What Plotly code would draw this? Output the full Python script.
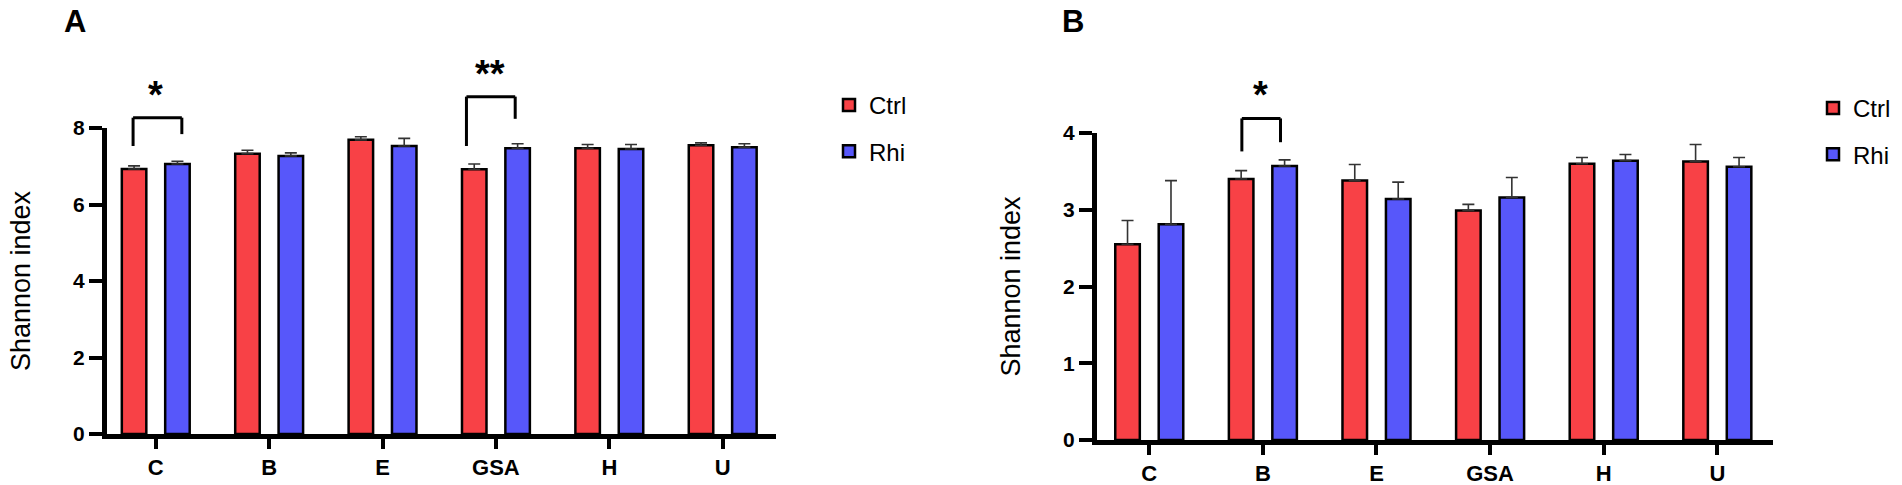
import plotly.graph_objects as go

# ---------------- data ----------------
categories = ["C", "B", "E", "GSA", "H", "U"]

a_ctrl = [6.93, 7.33, 7.69, 6.92, 7.47, 7.55]
a_ctrl_err = [0.08, 0.09, 0.08, 0.14, 0.10, 0.06]
a_rhi = [7.06, 7.27, 7.53, 7.47, 7.45, 7.50]
a_rhi_err = [0.07, 0.08, 0.20, 0.12, 0.12, 0.09]

b_ctrl = [2.55, 3.40, 3.38, 2.99, 3.60, 3.63]
b_ctrl_err = [0.31, 0.11, 0.21, 0.08, 0.08, 0.22]
b_rhi = [2.81, 3.57, 3.14, 3.16, 3.64, 3.56]
b_rhi_err = [0.57, 0.08, 0.22, 0.26, 0.08, 0.12]

a_ticks = [0, 2, 4, 6, 8]
b_ticks = [0, 1, 2, 3, 4]

# significance brackets: category, label, top, left-leg end, right-leg end, star height
a_sig_cats = ["C", "GSA"]
a_sig_labels = ["*", "**"]
a_sig_top = [8.27, 8.82]
a_sig_left_end = [7.53, 7.53]
a_sig_right_end = [7.84, 8.24]
a_sig_star = [8.86, 9.42]

b_sig_cats = ["B"]
b_sig_labels = ["*"]
b_sig_top = [4.19]
b_sig_left_end = [3.76]
b_sig_right_end = [3.88]
b_sig_star = [4.49]

# ---------------- style ----------------
W, H = 1902, 485
RED = "#F84146"
BLUE = "#5757FA"
FONT = "Liberation Sans, Arial, sans-serif"

A_DOM_X = [107 / W, 776 / W]
A_DOM_Y = [(H - 434) / H, (H - 128) / H]
A_RANGE_X = [-0.43, 5.47]
A_RANGE_Y = [0, 8]
B_DOM_X = [1097 / W, 1773 / W]
B_DOM_Y = [(H - 440) / H, (H - 133) / H]
B_RANGE_X = [-0.46, 5.49]
B_RANGE_Y = [0, 4]

# bracket leg offsets from the category centre (category units)
A_LEG_OFF = [(-0.20, 0.23), (-0.26, 0.17)]
B_LEG_OFF = [(-0.185, 0.155)]
A_STAR_OFF = [0.0, -0.05]
B_STAR_OFF = [-0.02]


def y_to_paper(v, dom, rng):
    return dom[0] + (v - rng[0]) / (rng[1] - rng[0]) * (dom[1] - dom[0])


def bar(name, y, err, color, xa, ya, legend, show):
    return go.Bar(
        name=name, x=categories, y=y,
        marker=dict(color=color, line=dict(color="black", width=2.5)),
        error_y=dict(type="data", array=err, arrayminus=[0] * len(err), symmetric=False,
                     color="#333333", thickness=1.6, width=6),
        xaxis=xa, yaxis=ya, legend=legend, showlegend=show,
        legendgroup=legend + name,
    )


fig = go.Figure()
fig.add_trace(bar("Ctrl", a_ctrl, a_ctrl_err, RED, "x", "y", "legend", True))
fig.add_trace(bar("Rhi", a_rhi, a_rhi_err, BLUE, "x", "y", "legend", True))
fig.add_trace(bar("Ctrl", b_ctrl, b_ctrl_err, RED, "x2", "y2", "legend2", True))
fig.add_trace(bar("Rhi", b_rhi, b_rhi_err, BLUE, "x2", "y2", "legend2", True))

axis_common = dict(showline=True, linecolor="black", linewidth=5, ticks="outside",
                   tickcolor="black", tickwidth=4, showgrid=False, zeroline=False,
                   automargin=False)
xtickfont = dict(family=FONT, size=22, color="black", weight="bold")
ytickfont = dict(family=FONT, size=21, color="black", weight="bold")
ytitle = dict(text="Shannon index", font=dict(family=FONT, size=27), standoff=36)

fig.update_layout(
    width=W, height=H,
    margin=dict(l=0, r=0, t=0, b=0, autoexpand=False),
    paper_bgcolor="white", plot_bgcolor="white",
    barmode="group", bargap=0.235, bargroupgap=0.435,
    font=dict(family=FONT, color="black"),
    xaxis=dict(domain=A_DOM_X, range=A_RANGE_X, anchor="y", ticklen=10, tickfont=xtickfont,
               **axis_common),
    yaxis=dict(domain=A_DOM_Y, range=A_RANGE_Y, anchor="x", tickvals=a_ticks, ticklen=13,
               tickfont=ytickfont, title=ytitle, **axis_common),
    xaxis2=dict(domain=B_DOM_X, range=B_RANGE_X, anchor="y2", ticklen=10, tickfont=xtickfont,
                **axis_common),
    yaxis2=dict(domain=B_DOM_Y, range=B_RANGE_Y, anchor="x2", tickvals=b_ticks, ticklen=13,
                tickfont=ytickfont, title=ytitle, **axis_common),
    legend=dict(x=829 / W, y=1 - 83 / H, xanchor="left", yanchor="top",
                font=dict(family=FONT, size=24), tracegroupgap=12, bgcolor="rgba(0,0,0,0)"),
    legend2=dict(x=1813 / W, y=1 - 86 / H, xanchor="left", yanchor="top",
                 font=dict(family=FONT, size=24), tracegroupgap=12, bgcolor="rgba(0,0,0,0)"),
)

shapes = []
annotations = []


def add_brackets(cats, labels, tops, lends, rends, stars, legoffs, staroffs, xref, dom, rng):
    for c, lab, t, le, re_, s, (lo, ro), so in zip(cats, labels, tops, lends, rends, stars,
                                                  legoffs, staroffs):
        i = categories.index(c)
        xl, xr = i + lo, i + ro
        yt = y_to_paper(t, dom, rng)
        line = dict(color="black", width=3)
        shapes.append(dict(type="line", xref=xref, yref="paper", x0=xl, x1=xr, y0=yt, y1=yt, line=line))
        shapes.append(dict(type="line", xref=xref, yref="paper", x0=xl, x1=xl, y0=yt,
                           y1=y_to_paper(le, dom, rng), line=line))
        shapes.append(dict(type="line", xref=xref, yref="paper", x0=xr, x1=xr, y0=yt,
                           y1=y_to_paper(re_, dom, rng), line=line))
        annotations.append(dict(text=lab, x=i + so, xref=xref, y=y_to_paper(s, dom, rng), yref="paper",
                                showarrow=False, xanchor="center", yanchor="middle",
                                font=dict(family=FONT, size=38, color="black", weight="bold")))


add_brackets(a_sig_cats, a_sig_labels, a_sig_top, a_sig_left_end, a_sig_right_end, a_sig_star,
             A_LEG_OFF, A_STAR_OFF, "x", A_DOM_Y, A_RANGE_Y)
add_brackets(b_sig_cats, b_sig_labels, b_sig_top, b_sig_left_end, b_sig_right_end, b_sig_star,
             B_LEG_OFF, B_STAR_OFF, "x2", B_DOM_Y, B_RANGE_Y)

annotations.append(dict(text="A", x=75 / W, y=1 - 22 / H, xref="paper", yref="paper", showarrow=False,
                        xanchor="center", yanchor="middle",
                        font=dict(family=FONT, size=31, color="black", weight="bold")))
annotations.append(dict(text="B", x=1073 / W, y=1 - 22 / H, xref="paper", yref="paper", showarrow=False,
                        xanchor="center", yanchor="middle",
                        font=dict(family=FONT, size=31, color="black", weight="bold")))

fig.update_layout(shapes=shapes, annotations=annotations)
fig.write_html("out.html", config={"displayModeBar": False},
               post_script="document.body.style.margin='0';document.body.style.overflow='hidden';")
